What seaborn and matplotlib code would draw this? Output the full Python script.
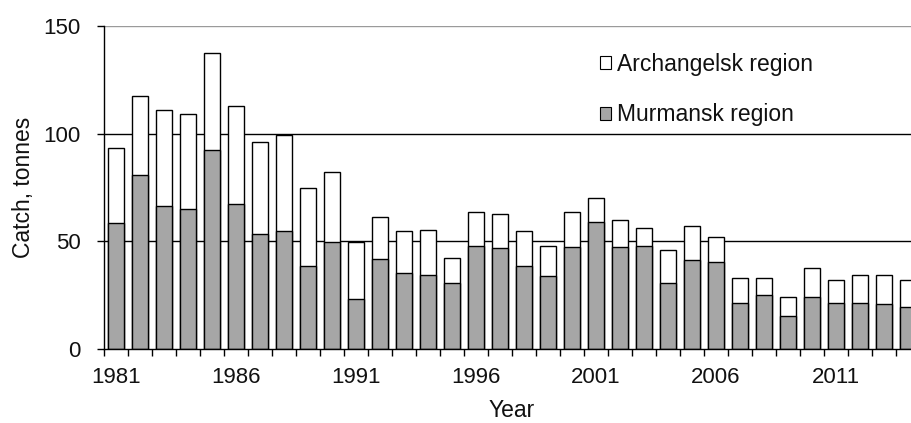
import matplotlib
matplotlib.use("Agg")
import matplotlib.pyplot as plt
import seaborn as sns
import pandas as pd
import numpy as np
from matplotlib.patches import Patch

years = list(range(1981, 2015))
total = [93.2, 117.6, 111.0, 109.1, 137.4, 112.7, 96.1, 99.4, 74.8, 82.1,
         49.6, 61.3, 54.7, 55.3, 42.3, 63.8, 62.6, 54.7, 47.9, 63.8,
         70.0, 60.1, 56.4, 46.0, 57.0, 52.1, 33.2, 33.2, 24.0, 37.6,
         32.0, 34.5, 34.5, 32.0]
murmansk = [58.3, 81.0, 66.3, 65.0, 92.6, 67.5, 53.3, 54.7, 38.6, 49.6,
            23.3, 41.9, 35.1, 34.5, 30.7, 47.9, 46.7, 38.6, 33.8, 47.3,
            58.9, 47.3, 47.9, 30.7, 41.3, 40.5, 21.5, 25.2, 15.4, 24.0,
            21.5, 21.5, 20.9, 19.6]

df = pd.DataFrame({"year": [str(y) for y in years], "total": total, "murmansk": murmansk})

sns.set_style("white")
plt.rcParams["font.family"] = ["Liberation Sans", "DejaVu Sans"]

fig = plt.figure(figsize=(9.12, 4.23), dpi=100)
ax = fig.add_axes([104 / 912, 74 / 423, 816 / 912, 323 / 423])

# gridlines behind bars
for v, c in [(50, "black"), (100, "black"), (150, "#9a9a9a")]:
    ax.axhline(v, color=c, lw=1, zorder=0)

sns.barplot(data=df, x="year", y="total", color="white", edgecolor="black",
            linewidth=1, width=0.68, saturation=1, ax=ax, zorder=2)
sns.barplot(data=df, x="year", y="murmansk", color="#a6a6a6", edgecolor="black",
            linewidth=1, width=0.68, saturation=1, ax=ax, zorder=3)

n = len(years)
ax.set_xlim(-0.5, n - 0.5)
ax.set_ylim(0, 150)
ax.set_yticks([0, 50, 100, 150])
ax.tick_params(axis="y", direction="out", length=5, width=1, color="black",
               labelsize=16, left=True, pad=12, labelcolor="#111111")

ax.set_xticks(np.arange(0, n, 5))
ax.set_xticklabels([str(years[i]) for i in range(0, n, 5)])
ax.set_xticks(np.arange(-0.5, n, 1), minor=True)
ax.tick_params(axis="x", which="major", length=0, labelsize=16, pad=13,
               labelcolor="#111111")
ax.tick_params(axis="x", which="minor", direction="out", length=5, width=1,
               color="black", bottom=True)

for side in ["top", "right"]:
    ax.spines[side].set_visible(False)
for side in ["left", "bottom"]:
    ax.spines[side].set_color("black")
    ax.spines[side].set_linewidth(1)
    ax.spines[side].set_zorder(5)

ax.set_xlabel("Year", fontsize=16.5, labelpad=8, color="#111111")
ax.set_ylabel("Catch, tonnes", fontsize=16.5, labelpad=6, color="#111111")

handles = [Patch(facecolor="white", edgecolor="black", lw=0.8, label="Archangelsk region"),
           Patch(facecolor="#a6a6a6", edgecolor="black", lw=0.8, label="Murmansk region")]
ax.legend(handles=handles, loc="upper left", bbox_to_anchor=(600 / 912, 1 - 53 / 423),
          bbox_transform=fig.transFigure, frameon=False, borderpad=0,
          fontsize=16.5, handlelength=0.5, handleheight=0.5, handletextpad=0.25,
          labelspacing=1.2, borderaxespad=0, labelcolor="#111111")

fig.savefig("out.png", dpi=100)
